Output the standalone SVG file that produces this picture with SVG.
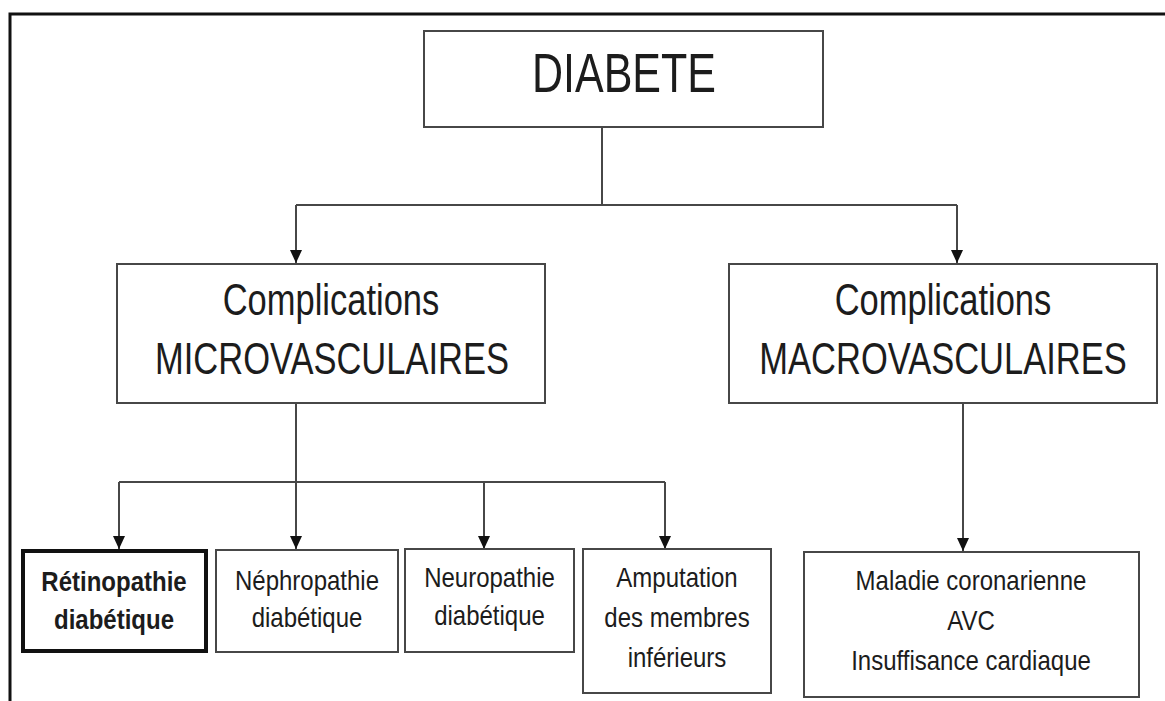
<svg xmlns="http://www.w3.org/2000/svg" width="1165" height="701" viewBox="0 0 1165 701">
<style>
.box{fill:#fff;stroke:#474747;stroke-width:2}
.bold{fill:#fff;stroke:#111;stroke-width:4}
.t{font-family:"Liberation Sans",Arial,sans-serif;fill:#1c1c1c;text-anchor:middle}
.big{font-size:43px}
.mid{font-size:34.5px}
.sm{font-size:24px}
.b{font-weight:bold}
.c{fill:none;stroke:#474747;stroke-width:2}
</style>
<defs>
<marker id="ah" viewBox="0 0 13 12" refX="13" refY="6" markerWidth="13" markerHeight="12" markerUnits="userSpaceOnUse" orient="auto">
<path d="M0,0 L13,6 L0,12 Z" fill="#111"/>
</marker>
</defs>
<rect width="1165" height="701" fill="#fff"/>
<path d="M10,701 L10,14 L1165,14" fill="none" stroke="#111" stroke-width="3"/>
<g id="connectors">
<path class="c" d="M602,127 L602,205"/>
<path class="c" d="M296,205 L957,205"/>
<line class="c" x1="296" y1="205" x2="296" y2="263" marker-end="url(#ah)"/>
<line class="c" x1="957" y1="205" x2="957" y2="263" marker-end="url(#ah)"/>
<path class="c" d="M296,403 L296,482"/>
<path class="c" d="M119,482 L665,482"/>
<line class="c" x1="119" y1="482" x2="119" y2="549" marker-end="url(#ah)"/>
<line class="c" x1="296" y1="403" x2="296" y2="549" marker-end="url(#ah)"/>
<line class="c" x1="484" y1="482" x2="484" y2="549" marker-end="url(#ah)"/>
<line class="c" x1="665" y1="482" x2="665" y2="549" marker-end="url(#ah)"/>
<line class="c" x1="963" y1="403" x2="963" y2="551" marker-end="url(#ah)"/>
</g>
<g id="diabete">
<rect class="box" x="424" y="31" width="399" height="96"/>
<text class="t big" transform="translate(624,92) scale(1,1.27)">DIABETE</text>
</g>
<g id="micro">
<rect class="box" x="117" y="264" width="428" height="139"/>
<text class="t mid" transform="translate(331,315) scale(1,1.3)">Complications</text>
<text class="t mid" transform="translate(332,374) scale(1,1.3)">MICROVASCULAIRES</text>
</g>
<g id="macro">
<rect class="box" x="729" y="264" width="428" height="139"/>
<text class="t mid" transform="translate(943,315) scale(1,1.3)">Complications</text>
<text class="t mid" transform="translate(943,374) scale(1,1.3)">MACROVASCULAIRES</text>
</g>
<g id="retino">
<rect class="bold" x="23" y="551" width="183" height="100"/>
<text class="t sm b" transform="translate(114,591) scale(1,1.16)">Rétinopathie</text>
<text class="t sm b" transform="translate(114,629) scale(1,1.16)">diabétique</text>
</g>
<g id="nephro">
<rect class="box" x="216" y="550" width="182" height="102"/>
<text class="t sm" transform="translate(307,590) scale(1,1.16)">Néphropathie</text>
<text class="t sm" transform="translate(307,627) scale(1,1.16)">diabétique</text>
</g>
<g id="neuro">
<rect class="box" x="405" y="549" width="169" height="103"/>
<text class="t sm" transform="translate(489.5,587) scale(1,1.16)">Neuropathie</text>
<text class="t sm" transform="translate(489.5,625) scale(1,1.16)">diabétique</text>
</g>
<g id="amputation">
<rect class="box" x="583" y="549" width="188" height="144"/>
<text class="t sm" transform="translate(677,587) scale(1,1.16)">Amputation</text>
<text class="t sm" transform="translate(677,627) scale(1,1.16)">des membres</text>
<text class="t sm" transform="translate(677,667) scale(1,1.16)">inférieurs</text>
</g>
<g id="macro-list">
<rect class="box" x="804" y="552" width="335" height="145"/>
<text class="t sm" transform="translate(971,590) scale(1,1.16)">Maladie coronarienne</text>
<text class="t sm" transform="translate(971,630) scale(1,1.16)">AVC</text>
<text class="t sm" transform="translate(971,670) scale(1,1.16)">Insuffisance cardiaque</text>
</g>
</svg>
